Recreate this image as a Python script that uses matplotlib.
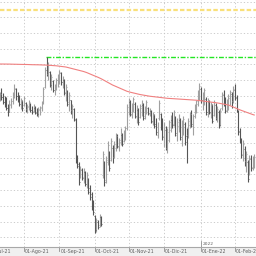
import numpy as np
import pandas as pd
import matplotlib
matplotlib.use("Agg")
import matplotlib.pyplot as plt
import matplotlib.transforms as mtransforms

# ---------------- data ----------------
start_date = "2021-07-12"
n_bars = 159

high = [15.8, 16.2, 15.7, 15.4, 15.3, 14.6, 15.0, 15.2, 15.8, 16.6,
        16.2, 15.8, 15.5, 15.2, 15.0, 15.4, 14.8, 14.6, 15.0, 14.7,
        14.4, 14.6, 14.4, 14.2, 14.3, 14.4, 14.9, 16.3, 18.3, 19.3,
        18.8, 17.9, 17.6, 17.0, 16.6, 17.2, 17.6, 18.0, 17.8, 17.4,
        17.1, 16.6, 16.0, 15.8, 15.0, 14.6, 14.2, 13.2, 9.5, 8.8,
        8.4, 8.2, 8.2, 7.9, 7.8, 7.2, 6.5, 5.8, 5.0, 3.5,
        3.2, 3.0, 3.6, 3.4, 9.9, 8.9, 9.4, 10.9, 9.9, 11.2,
        10.5, 10.9, 11.7, 11.6, 11.2, 12.2, 11.7, 12.0, 12.4, 14.6,
        15.2, 15.0, 14.7, 15.3, 14.8, 14.5, 14.2, 14.6, 15.0, 14.7,
        14.4, 15.0, 14.3, 14.2, 14.0, 13.8, 13.6, 13.2, 12.8, 15.0,
        13.7, 13.2, 12.8, 12.4, 12.2, 13.0, 13.5, 13.8, 14.0, 13.4,
        13.2, 13.6, 13.2, 13.0, 13.4, 12.8, 12.2, 13.2, 13.8, 14.0,
        13.6, 14.6, 15.0, 16.0, 16.7, 16.3, 15.8, 16.2, 15.3, 15.2,
        15.0, 14.8, 14.6, 15.0, 14.7, 14.4, 14.0, 14.2, 15.8, 16.0,
        15.3, 15.1, 15.6, 16.0, 15.8, 16.4, 16.6, 15.5, 14.0, 12.2,
        11.2, 11.0, 10.4, 9.9, 9.0, 9.5, 9.5, 9.4, 9.6]

low = [14.9, 15.0, 14.6, 14.3, 14.0, 13.4, 13.8, 14.2, 14.6, 15.2,
       15.0, 14.8, 14.4, 14.1, 13.9, 14.4, 13.8, 13.7, 14.0, 13.8,
       13.6, 13.8, 13.6, 13.4, 13.3, 13.5, 13.9, 14.6, 16.2, 17.4,
       17.0, 16.3, 16.0, 15.8, 15.5, 16.0, 16.3, 16.6, 16.5, 16.2,
       15.5, 14.9, 14.4, 13.9, 13.6, 13.2, 12.9, 8.7, 8.2, 6.5,
       7.2, 7.0, 6.7, 6.4, 6.2, 5.6, 5.0, 4.0, 3.5, 1.7,
       1.8, 2.1, 2.3, 2.4, 7.2, 6.4, 6.7, 8.5, 7.9, 8.9,
       8.7, 9.2, 9.9, 10.2, 9.9, 10.5, 10.4, 10.8, 11.0, 12.0,
       13.5, 13.4, 13.2, 13.8, 13.2, 12.7, 12.5, 13.2, 13.4, 13.0,
       13.1, 13.6, 13.5, 13.4, 12.7, 12.5, 12.2, 11.5, 11.2, 13.0,
       12.0, 11.0, 10.3, 10.0, 9.7, 10.8, 11.8, 12.2, 12.4, 11.4,
       10.9, 11.8, 11.0, 10.4, 11.5, 10.5, 8.7, 11.2, 12.2, 12.3,
       11.5, 13.2, 13.7, 14.4, 15.0, 14.7, 14.0, 14.5, 13.5, 13.3,
       13.6, 13.2, 12.7, 13.4, 13.0, 12.8, 12.2, 12.4, 14.0, 14.4,
       13.7, 13.8, 14.0, 14.5, 14.2, 14.7, 15.0, 13.8, 11.5, 10.7,
       9.2, 8.9, 8.4, 7.8, 6.8, 7.5, 7.9, 8.0, 8.2]

open_ = [15.2, 15.6, 15.3, 14.8, 14.6, 14.2, 13.8, 14.5, 14.9, 15.5,
         16.1, 15.4, 15.1, 14.6, 14.8, 14.5, 14.7, 14.1, 14.3, 14.6,
         14.0, 13.9, 14.2, 13.8, 13.5, 14.0, 14.2, 14.8, 16.3, 18.0,
         17.6, 17.8, 16.5, 16.9, 16.0, 16.3, 17.0, 17.3, 17.7, 16.8,
         17.0, 15.8, 16.0, 14.8, 15.0, 14.0, 14.1, 13.0, 9.3, 8.6,
         7.3, 8.0, 7.3, 7.8, 6.6, 7.0, 6.2, 5.6, 4.4, 3.4,
         2.0, 2.8, 2.5, 3.3, 7.5, 8.7, 7.0, 8.8, 9.6, 9.0,
         10.2, 9.3, 10.2, 11.3, 10.3, 10.8, 11.5, 10.9, 11.4, 12.2,
         13.8, 14.8, 13.5, 14.0, 14.6, 13.3, 14.0, 13.3, 14.2, 14.5,
         13.4, 13.8, 14.2, 13.6, 13.9, 12.8, 13.3, 12.6, 11.5, 13.2,
         13.6, 12.4, 11.4, 12.0, 10.2, 11.0, 12.0, 13.0, 12.6, 13.2,
         11.5, 12.4, 13.0, 11.1, 12.0, 12.6, 11.4, 11.5, 12.5, 13.5,
         12.4, 13.4, 14.0, 14.6, 15.6, 16.1, 15.0, 14.8, 15.1, 13.6,
         14.8, 13.7, 14.3, 13.5, 14.5, 13.2, 13.8, 12.6, 14.2, 15.5,
         14.8, 14.0, 14.7, 15.2, 15.6, 14.9, 16.0, 15.2, 13.8, 11.9,
         10.9, 9.6, 10.1, 8.9, 8.8, 7.8, 9.1, 8.3, 8.8]

close = [15.6, 15.3, 14.8, 14.6, 14.2, 13.8, 14.6, 14.9, 15.5, 16.2,
         15.4, 15.0, 14.6, 14.9, 14.2, 15.2, 14.0, 14.4, 14.8, 14.0,
         13.8, 14.4, 13.7, 13.6, 14.1, 14.3, 14.8, 16.1, 18.0, 17.6,
         18.5, 16.5, 17.3, 16.0, 16.4, 17.0, 17.4, 17.8, 16.8, 17.2,
         15.7, 16.3, 14.6, 15.5, 13.8, 14.4, 13.1, 8.9, 8.4, 6.8,
         8.1, 7.2, 8.0, 6.6, 7.5, 5.8, 5.3, 4.2, 3.8, 2.0,
         3.0, 2.3, 3.4, 2.6, 9.6, 6.8, 9.0, 10.5, 8.2, 10.9,
         9.0, 10.6, 11.4, 10.4, 11.0, 11.9, 10.6, 11.7, 12.2, 14.3,
         15.0, 13.6, 14.4, 15.1, 13.4, 14.2, 12.8, 14.4, 14.8, 13.2,
         14.1, 14.8, 13.7, 14.0, 12.9, 13.5, 12.4, 11.8, 12.6, 14.7,
         12.3, 11.3, 12.3, 10.3, 11.8, 12.8, 13.3, 12.5, 13.8, 11.7,
         12.8, 13.4, 11.3, 12.6, 13.1, 10.8, 9.2, 12.9, 13.6, 12.6,
         13.4, 14.4, 14.9, 15.8, 16.4, 15.0, 15.6, 16.0, 13.8, 14.9,
         13.8, 14.5, 12.9, 14.8, 13.3, 14.1, 12.5, 13.9, 15.6, 14.7,
         13.9, 14.9, 15.4, 15.8, 14.5, 16.1, 15.3, 14.1, 11.8, 11.0,
         9.5, 10.6, 8.7, 9.6, 7.1, 9.2, 8.2, 9.0, 9.3]

moving_avg = [18.60, 18.60, 18.60, 18.60, 18.59, 18.59, 18.59, 18.58, 18.58, 18.58,
              18.57, 18.57, 18.56, 18.56, 18.56, 18.55, 18.55, 18.55, 18.54, 18.54,
              18.53, 18.53, 18.53, 18.52, 18.52, 18.51, 18.51, 18.50, 18.50,
              18.49, 18.48, 18.47, 18.46, 18.45, 18.44, 18.42, 18.40, 18.38, 18.36,
              18.34, 18.32, 18.30,
              18.26, 18.22, 18.18, 18.14, 18.10, 18.06, 18.02, 17.98, 17.94, 17.90,
              17.85, 17.80,
              17.74, 17.67, 17.60, 17.54, 17.47, 17.40, 17.34, 17.27, 17.20,
              17.12, 17.03, 16.94, 16.85, 16.76, 16.67, 16.58, 16.50,
              16.43, 16.36, 16.29, 16.22, 16.15, 16.08, 16.01, 15.94, 15.87, 15.82,
              15.78, 15.74, 15.70, 15.66, 15.62, 15.58, 15.55, 15.52, 15.49, 15.46,
              15.43, 15.40,
              15.38, 15.36, 15.34, 15.32, 15.30, 15.28, 15.26, 15.24, 15.22, 15.20,
              15.18, 15.17,
              15.16, 15.15, 15.14, 15.13, 15.12, 15.11, 15.10, 15.09, 15.08, 15.07,
              15.06, 15.05, 15.04, 15.03, 15.02, 15.01, 15.00,
              14.98, 14.96, 14.94, 14.92, 14.90, 14.88, 14.86, 14.84, 14.82, 14.80,
              14.78, 14.76, 14.74,
              14.71, 14.68, 14.65, 14.62, 14.59, 14.56, 14.53, 14.50,
              14.43, 14.36, 14.29, 14.22, 14.15, 14.08,
              14.02, 13.96, 13.90, 13.84, 13.78, 13.72, 13.66, 13.60, 13.55, 13.50]

resistance_level = 24.0     # yellow dashed
max_level = 19.3            # green dash-dot from the peak
max_level_start = 28.4      # bar index where green line starts
grid_levels = [1.3, 2.8, 4.4, 6.0, 7.6, 9.2, 10.7, 12.3, 13.8, 15.4,
               17.0, 18.6, 20.1, 21.7, 23.3, 24.8]

month_labels = ["01-Jul-21", "01-Ago-21", "01-Sep-21", "01-Oct-21",
                "01-Nov-21", "01-Dic-21", "01-Ene-22", "01-Feb-22"]
month_starts = ["2021-07-01", "2021-08-01", "2021-09-01", "2021-10-01",
                "2021-11-01", "2021-12-01", "2022-01-01", "2022-02-01"]
year_label = "2022"

# ---------------- plot ----------------
idx = np.arange(n_bars)
o = np.array(open_); h = np.array(high); l = np.array(low); c = np.array(close)

fig = plt.figure(figsize=(2.56, 2.56), dpi=100)
fig.patch.set_facecolor("#f0f0f0")
ax = fig.add_axes([0, 9 / 256, 1, 247 / 256])
ax.set_facecolor("white")

d0 = np.datetime64(start_date)
month_pos = []
for ms in month_starts:
    m = np.datetime64(ms)
    if m >= d0:
        month_pos.append(np.busday_count(d0, m))
    else:
        month_pos.append(-np.busday_count(m, d0))

ax.set_xlim(0.1, 159.1)
ax.set_ylim(0.3, 25.0)

for g in grid_levels:
    ax.axhline(g, color="#c4c4c4", lw=0.6, ls=(0, (1.5, 2.5)), zorder=0)
for p in month_pos:
    ax.axvline(p, color="#c4c4c4", lw=0.6, ls=(0, (1.5, 2.5)), zorder=0)

up = c >= o
cols = np.where(up, "#a0a0a0", "#555555")
ax.vlines(idx, l, h, colors=cols, lw=0.8, zorder=3)
ax.hlines(o, idx - 0.5, idx, colors=cols, lw=0.6, zorder=3)
ax.hlines(c, idx, idx + 0.5, colors=cols, lw=0.6, zorder=3)

ax.plot(idx, moving_avg, color="#f08080", lw=0.8, zorder=4)
ax.plot([0.1, 159.1], [resistance_level, resistance_level], color="#f9e07a",
        lw=1.6, ls=(0, (2, 1)), zorder=2)
ax.plot([max_level_start, 159.1], [max_level, max_level], color="#22e622",
        lw=1.0, ls=(0, (3.5, 1.2, 1, 1.2)), zorder=2)

for sp in ["top", "left", "right"]:
    ax.spines[sp].set_visible(False)
ax.spines["bottom"].set_color("#a8a8a8")
ax.spines["bottom"].set_linewidth(0.8)
ax.set_yticks([])
ax.set_xticks([])

trans = mtransforms.blended_transform_factory(ax.transData, ax.transAxes)
off = mtransforms.ScaledTranslation(1 / 100, -2 / 100, fig.dpi_scale_trans)
for p, lab in zip(month_pos, month_labels):
    ax.text(p, 0, lab, transform=trans + off, ha="left", va="top",
            fontsize=3.4, color="#606060", clip_on=False)
    ax.plot([p, p], [0, -0.016], transform=trans, color="#909090",
            lw=0.6, clip_on=False)

jan_pos = month_pos[6]
ax.plot([jan_pos, jan_pos], [0.0, 0.025], transform=trans, color="#909090",
        lw=0.6, clip_on=False)
off2 = mtransforms.ScaledTranslation(1.5 / 100, 1 / 100, fig.dpi_scale_trans)
ax.text(jan_pos, 0, year_label, transform=trans + off2, ha="left", va="bottom",
        fontsize=3.2, color="#606060")

fig.savefig("out.png", dpi=100, facecolor=fig.get_facecolor())
